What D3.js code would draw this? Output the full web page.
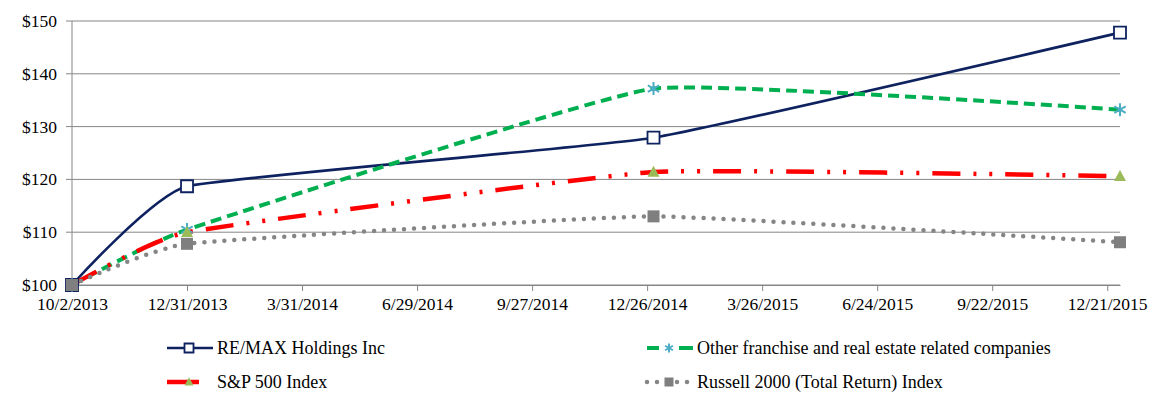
<!DOCTYPE html>
<html>
<head>
<meta charset="utf-8">
<script src="https://cdn.jsdelivr.net/npm/d3@7.9.0/dist/d3.min.js"></script>
<style>
  html, body { margin: 0; padding: 0; background: #fff; }
  svg text { font-family: 'Liberation Serif', 'Times New Roman', 'DejaVu Serif', serif; fill: #000; }
</style>
</head>
<body>
<div id="chart"></div>
<script>
const width = 1171;
const height = 407;

// data (indexed $100 investment)
const dates = ['10/2/2013', '12/31/2013', '12/31/2014', '12/31/2015'];
const remax = [100, 118.7, 127.9, 147.8];
const others = [100, 110.5, 137.2, 133.2];
const sp500 = [100, 110.0, 121.4, 120.6];
const russell = [100, 107.8, 113.0, 108.1];
const yTicks = [100, 110, 120, 130, 140, 150];

const parse = d3.utcParse('%m/%d/%Y');
const fmt = d3.utcFormat('%-m/%-d/%Y');
const xDates = dates.map(parse);
const serif = "'Liberation Serif', 'Times New Roman', 'DejaVu Serif', serif";

const series = [
  { name: 'RE/MAX Holdings Inc', values: remax, color: '#0E2260', width: 2.6, dash: null, legendDash: null, cap: 'butt', marker: 'hollowSquare', mcolor: '#0E2260' },
  { name: 'Other franchise and real estate related companies', values: others, color: '#00B050', width: 4, dash: '11,6', legendDash: '12,20,14', cap: 'butt', marker: 'star', mcolor: '#4BACC6' },
  { name: 'S&P 500 Index', values: sp500, color: '#FF0000', width: 4.5, dash: '28,13,3,13,3,13', legendDash: '32,20', cap: 'butt', marker: 'triangle', mcolor: '#9BBB59' },
  { name: 'Russell 2000 (Total Return) Index', values: russell, color: '#858585', width: 4.5, dash: '0,10', legendDash: '0,10', cap: 'round', marker: 'square', mcolor: '#7F7F7F' }
];

const x = d3.scaleUtc()
  .domain([parse('10/2/2013'), parse('12/31/2015')])
  .range([72, 1120]);

const y = d3.scaleLinear()
  .domain([100, 150])
  .range([285, 21]);

const xTicks = d3.utcDay.range(parse('10/2/2013'), parse('12/22/2015'), 90);

const svg = d3.select('#chart').append('svg')
  .attr('width', width)
  .attr('height', height);

// gridlines
svg.append('g')
  .selectAll('line')
  .data(yTicks)
  .enter()
  .append('line')
  .attr('x1', 66)
  .attr('x2', 1120)
  .attr('y1', d => y(d))
  .attr('y2', d => y(d))
  .attr('stroke', '#868686')
  .attr('stroke-width', 1);

// y axis line + labels
svg.append('line')
  .attr('x1', x.range()[0]).attr('x2', x.range()[0])
  .attr('y1', y(150)).attr('y2', y(100))
  .attr('stroke', '#868686');

svg.append('g')
  .selectAll('text')
  .data(yTicks)
  .enter()
  .append('text')
  .attr('x', 57)
  .attr('y', d => y(d) + 6)
  .attr('text-anchor', 'end')
  .style('font-family', serif)
  .style('font-size', '17.5px')
  .text(d => '$' + d);

// x axis
const xAxis = svg.append('g')
  .attr('transform', `translate(0,${y(100)})`)
  .call(d3.axisBottom(x).tickValues(xTicks).tickFormat(fmt).tickSize(6).tickSizeOuter(0).tickPadding(7));

xAxis.attr('font-family', null);
xAxis.select('.domain').attr('stroke', '#868686');
xAxis.selectAll('.tick line').attr('stroke', '#868686');
xAxis.selectAll('.tick text')
  .style('font-size', '17.5px')
  .style('font-family', serif)
  .attr('fill', '#000');

// lines
const line = d3.line()
  .x((d, i) => x(xDates[i]))
  .y(d => y(d))
  .curve(d3.curveCardinal.tension(0.65));

const symbolPath = (type, s) => {
  const h = s / 2;
  if (type === 'star') {
    const a = h * 0.87;
    return `M0,${-h}V${h}M${-a},${-h * 0.5}L${a},${h * 0.5}M${-a},${h * 0.5}L${a},${-h * 0.5}`;
  }
  if (type === 'triangle') {
    return `M0,${-h * 1.05}L${h},${h * 0.8}L${-h},${h * 0.8}Z`;
  }
  return `M${-h},${-h}H${h}V${h}H${-h}Z`;
};

const drawMarker = (g, d, s) => {
  const p = g.append('path').attr('d', symbolPath(d.marker, s));
  if (d.marker === 'hollowSquare') {
    p.attr('fill', '#fff').attr('stroke', d.mcolor).attr('stroke-width', 1.8);
  } else if (d.marker === 'star') {
    p.attr('fill', 'none').attr('stroke', d.mcolor).attr('stroke-width', 2);
  } else {
    p.attr('fill', d.mcolor);
  }
};

const lineGroup = svg.append('g');
series.forEach(d => {
  lineGroup.append('path')
    .attr('d', line(d.values))
    .attr('fill', 'none')
    .attr('stroke', d.color)
    .attr('stroke-width', d.width)
    .attr('stroke-dasharray', d.dash)
    .attr('stroke-linecap', d.cap);
});

series.forEach(d => {
  d.values.forEach((v, i) => {
    const g = lineGroup.append('g')
      .attr('transform', `translate(${x(xDates[i])},${y(v)})`);
    drawMarker(g, d, d.marker === 'star' ? 13 : 12);
  });
});

// legend
const legendPos = [
  { x: 167, y: 348 },
  { x: 647, y: 348 },
  { x: 167, y: 382 },
  { x: 647, y: 382 }
];

series.forEach((d, i) => {
  const pos = legendPos[i];
  const g = svg.append('g').attr('transform', `translate(${pos.x},${pos.y})`);
  g.append('line')
    .attr('x1', 0).attr('x2', 46)
    .attr('stroke', d.color)
    .attr('stroke-width', d.width)
    .attr('stroke-dasharray', d.legendDash)
    .attr('stroke-linecap', d.cap);
  const m = g.append('g').attr('transform', 'translate(22,0)');
  drawMarker(m, d, 9);
  g.append('text')
    .attr('x', 50)
    .attr('y', 6)
    .style('font-family', serif)
    .style('font-size', '18px')
    .text(d.name);
});
</script>
</body>
</html>
